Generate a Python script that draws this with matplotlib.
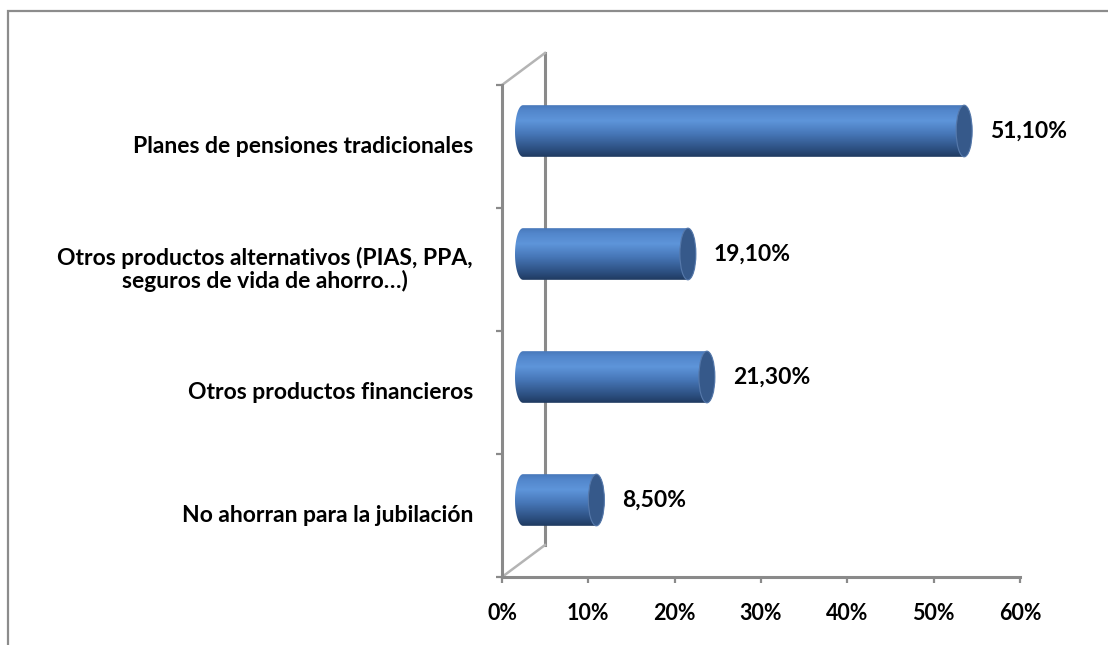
import numpy as np
import matplotlib.pyplot as plt
import matplotlib.transforms as mtransforms
from matplotlib.patches import Ellipse, PathPatch, Rectangle
from matplotlib.path import Path
from matplotlib.colors import LinearSegmentedColormap

categorias = ["Planes de pensiones tradicionales",
              "Otros productos alternativos (PIAS, PPA,\nseguros de vida de ahorro…)",
              "Otros productos financieros",
              "No ahorran para la jubilación"]
valores = [51.1, 19.1, 21.3, 8.5]
ticks_x = [0, 10, 20, 30, 40, 50, 60]

plt.rcParams['font.family'] = ['Lato', 'DejaVu Sans']
plt.rcParams['font.weight'] = 'bold'

W, H = 1108, 645
fig = plt.figure(figsize=(W / 100, H / 100), dpi=100)
ax = fig.add_axes([502 / W, 68 / H, 518 / W, 492 / H])
ax.set_autoscale_on(False)
ax.set_xlim(0, 60)
ax.set_ylim(-0.5, len(categorias) - 0.5)
ax.patch.set_visible(False)

gris = '#8a8a8a'
for lado in ['top', 'right']:
    ax.spines[lado].set_visible(False)
for lado in ['left', 'bottom']:
    ax.spines[lado].set_color(gris)
    ax.spines[lado].set_linewidth(2.2)

# pared 3D (fondo)
dx, dy = 43 / 518, 32 / 492
kw = dict(transform=ax.transAxes, clip_on=False, zorder=1)
ax.plot([dx, dx], [dy, 1 + dy], color=gris, lw=2.2, **kw)
ax.plot([0, dx], [1, 1 + dy], color='#b4b4b4', lw=1.8, **kw)
ax.plot([0, dx], [0, dy], color='#b4b4b4', lw=1.8, **kw)

# ticks
ax.set_xticks(ticks_x)
ax.set_xticklabels([f"{t}%" for t in ticks_x], fontsize=15.5)
ax.tick_params(axis='x', length=4.5, width=1.6, color=gris, pad=14)
ax.set_yticks(np.arange(len(categorias) + 1) - 0.5)
ax.set_yticklabels([])
ax.tick_params(axis='y', length=4, width=1.6, color=gris)

ypos = np.arange(len(categorias))[::-1]
cat_tr = mtransforms.blended_transform_factory(ax.transAxes, ax.transData)
for y, c in zip(ypos, categorias):
    ax.annotate(c, xy=(0, y), xycoords=cat_tr, xytext=(-29, 0),
                textcoords='offset pixels', ha='right', va='center',
                multialignment='center', fontsize=16.5, linespacing=1.05)

# cilindros
mitad = ax.transData + mtransforms.ScaledTranslation(0.21, 0.155, fig.dpi_scale_trans)
cmap = LinearSegmentedColormap.from_list('cil', [
    (0.0, '#1f3a60'), (0.15, '#2c4f80'), (0.45, '#4777b8'),
    (0.7, '#5e95da'), (0.9, '#5286cb'), (1.0, '#4878ba')])
grad = np.linspace(0, 1, 256).reshape(-1, 1)
a = 8 / 518 * 60
h = 0.42
t = np.linspace(0, np.pi, 40)
for y, v in zip(ypos, valores):
    izq = np.column_stack([-a * np.sin(t), y + h / 2 * np.cos(t)])
    der = np.column_stack([v + a * np.sin(t), y - h / 2 * np.cos(t)])
    verts = np.vstack([izq, der, izq[:1]])
    forma = PathPatch(Path(verts, closed=True), transform=mitad, fc='none', ec='none')
    ax.add_patch(forma)
    im = ax.imshow(grad, extent=[-a, v + a, y - h / 2, y + h / 2], origin='lower',
                   aspect='auto', cmap=cmap, transform=mitad,
                   interpolation='bilinear', zorder=3)
    im.set_clip_path(forma)
    ax.add_patch(Ellipse((v, y), 2 * a, h, transform=mitad, fc='#36598a',
                         ec='#5679ab', lw=0.8, zorder=4))
    ax.annotate(f"{v:.2f}%".replace('.', ','), xy=(v, y), xycoords=mitad,
                xytext=(26, 0), textcoords='offset pixels', ha='left',
                va='center', fontsize=16.5)

fig.add_artist(Rectangle((8 / W, -0.05), 1.2, 1 - 11 / H + 0.05,
                         transform=fig.transFigure, fill=False,
                         ec='#8c8c8c', lw=1.6))

fig.savefig('out.png', dpi=100)
